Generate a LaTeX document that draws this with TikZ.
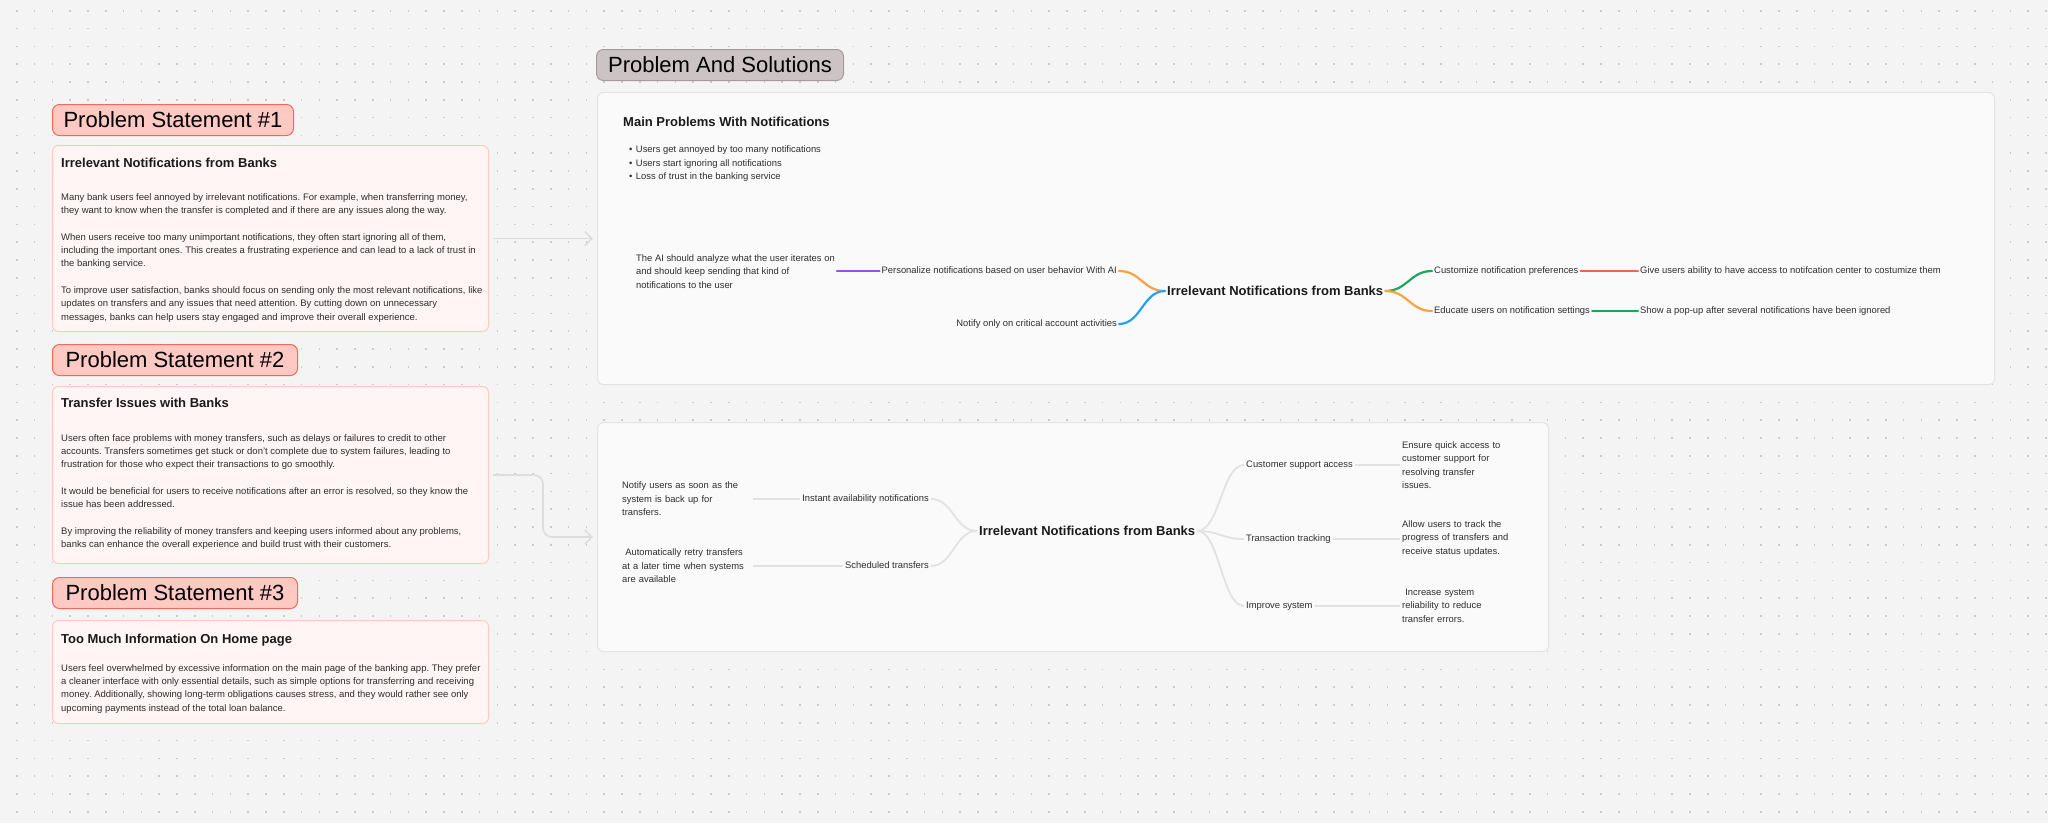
\documentclass[tikz,border=0pt]{standalone}
\usepackage{fontspec}
\setmainfont{Liberation Sans}
\usetikzlibrary{arrows.meta}
\frenchspacing

\definecolor{pagebg}{HTML}{F4F4F4}
\definecolor{dotgrey}{HTML}{CACACA}
\definecolor{tagfill}{HTML}{FFC9C3}
\definecolor{tagdraw}{HTML}{EE6A5A}
\definecolor{boxfill}{HTML}{FFF5F4}
\definecolor{boxdraw}{HTML}{FFCAC3}
\definecolor{pasfill}{HTML}{CCC4C4}
\definecolor{pasdraw}{HTML}{A59B9B}
\definecolor{panelfill}{HTML}{FAFAFA}
\definecolor{paneldraw}{HTML}{E3E3E3}
\definecolor{inkdark}{HTML}{1A1A1A}
\definecolor{inktext}{HTML}{2E2E2E}
\definecolor{mmorange}{HTML}{F7A440}
\definecolor{mmblue}{HTML}{2B9EF3}
\definecolor{mmgreen}{HTML}{1EA65A}
\definecolor{mmpurple}{HTML}{9A4CF0}
\definecolor{mmred}{HTML}{F2634F}
\definecolor{mmgrey}{HTML}{E2E2E2}
\definecolor{arrowgrey}{HTML}{DDDDDD}

\begin{document}
\begin{tikzpicture}[x=1pt, y=-1pt,
    griddots/.style={dotgrey, line width=1.6pt, dash pattern=on 1.6pt off 16.2pt},
    tagbox/.style={draw=tagdraw, fill=tagfill, line width=1pt, rounded corners=7pt, minimum height=31pt, inner sep=0pt, font=\fontsize{22}{26}\selectfont},
    pastag/.style={tagbox, draw=pasdraw, fill=pasfill},
    probbox/.style={draw=boxdraw, fill=boxfill, line width=1pt, rounded corners=6pt},
    panel/.style={draw=paneldraw, fill=panelfill, line width=1pt, rounded corners=6pt},
    boxtitle/.style={inkdark, inner sep=2pt, font=\bfseries\fontsize{13}{15}\selectfont},
    boxbody/.style={inktext, inner sep=2pt, align=left, font=\fontsize{9.5}{13.35}\selectfont},
    mmtext/.style={inktext, inner sep=2pt, text height=6.8pt, text depth=1.9pt, font=\fontsize{9.4}{12}\selectfont},
    mmnote/.style={inktext, inner sep=2pt, align=left, font=\fontsize{9.4}{13.5}\selectfont},
    mmhub/.style={inkdark, inner sep=2pt, text height=9.4pt, text depth=0pt, font=\bfseries\fontsize{13}{15}\selectfont},
    mmline/.style={line width=2.2pt, line cap=round},
    mmgreyline/.style={mmgrey, line width=1.8pt},
    flowarrow/.style={arrowgrey, line width=1.6pt, shorten <=4pt, shorten >=4pt, -{Straight Barb[length=7pt, width=14pt]}}
  ]
    \useasboundingbox (0,0) rectangle (2048,823);
    \fill[pagebg] (0,0) rectangle (2048,823);
    \foreach \j in {0,...,45}
        \draw[griddots] (15.9,{10.7+17.8*\j}) -- (2048,{10.7+17.8*\j});

    % problem statements
    \node[tagbox, anchor=north west, minimum width=241] (tag1) at (52,104) {Problem Statement \#1};
    \node[probbox, anchor=north west, minimum width=436, minimum height=186] (box1) at (52,145) {};
    \node[boxtitle, anchor=base west] (title1) at (59,167.5) {Irrelevant Notifications from Banks};
    \node[boxbody, anchor=north west] (body1) at (59,191) {Many bank users feel annoyed by irrelevant notifications. For example, when transferring money,\\they want to know when the transfer is completed and if there are any issues along the way.\\[13.35pt]When users receive too many unimportant notifications, they often start ignoring all of them,\\including the important ones. This creates a frustrating experience and can lead to a lack of trust in\\the banking service.\\[13.35pt]To improve user satisfaction, banks should focus on sending only the most relevant notifications, like\\updates on transfers and any issues that need attention. By cutting down on unnecessary\\messages, banks can help users stay engaged and improve their overall experience.};

    \node[tagbox, anchor=north west, minimum width=245] (tag2) at (52,344) {Problem Statement \#2};
    \node[probbox, anchor=north west, minimum width=436, minimum height=177] (box2) at (52,386) {};
    \node[boxtitle, anchor=base west] (title2) at (59,407.5) {Transfer Issues with Banks};
    \node[boxbody, anchor=north west] (body2) at (59,432) {Users often face problems with money transfers, such as delays or failures to credit to other\\accounts. Transfers sometimes get stuck or don't complete due to system failures, leading to\\frustration for those who expect their transactions to go smoothly.\\[13.35pt]It would be beneficial for users to receive notifications after an error is resolved, so they know the\\issue has been addressed.\\[13.35pt]By improving the reliability of money transfers and keeping users informed about any problems,\\banks can enhance the overall experience and build trust with their customers.};

    \node[tagbox, anchor=north west, minimum width=245] (tag3) at (52,577) {Problem Statement \#3};
    \node[probbox, anchor=north west, minimum width=436, minimum height=103] (box3) at (52,620) {};
    \node[boxtitle, anchor=base west] (title3) at (59,643.5) {Too Much Information On Home page};
    \node[boxbody, anchor=north west] (body3) at (59,662) {Users feel overwhelmed by excessive information on the main page of the banking app. They prefer\\a cleaner interface with only essential details, such as simple options for transferring and receiving\\money. Additionally, showing long-term obligations causes stress, and they would rather see only\\upcoming payments instead of the total loan balance.};

    % solutions
    \node[pastag, anchor=north west, minimum width=247] (pastitle) at (596,49) {Problem And Solutions};
    \node[panel, anchor=north west, minimum width=1397, minimum height=292] (panel1) at (597,92) {};
    \node[panel, anchor=north west, minimum width=951, minimum height=229] (panel2) at (597,422) {};

    \draw[flowarrow] (box1.east) -- (panel1.west);
    \draw[flowarrow, rounded corners=9pt] (box2.east) -- ++(54,0) |- (panel2.west);

    \node[boxtitle, anchor=base west] (mainprob) at (621,126.6) {Main Problems With Notifications};
    \node[mmnote, anchor=north west] (bullets) at (627,143.5) {\textbullet\hspace{3.5pt}Users get annoyed by too many notifications\\\textbullet\hspace{3.5pt}Users start ignoring all notifications\\\textbullet\hspace{3.5pt}Loss of trust in the banking service};

    \node[mmnote, anchor=west] (aihint) at (634,271.5) {The AI should analyze what the user iterates on\\and should keep sending that kind of\\notifications to the user};
    \node[mmtext, anchor=east] (personal) at (1119,271) {Personalize notifications based on user behavior With AI};
    \node[mmtext, anchor=east] (critical) at (1119,324) {Notify only on critical account activities};
    \node[mmhub, anchor=west] (hub1) at (1165,291) {Irrelevant Notifications from Banks};
    \node[mmtext, anchor=west] (prefs) at (1432,271) {Customize notification preferences};
    \node[mmtext, anchor=west] (educate) at (1432,311) {Educate users on notification settings};
    \node[mmtext, anchor=west] (notifcenter) at (1638,271) {Give users ability to have access to notifcation center to costumize them};
    \node[mmtext, anchor=west] (popup) at (1638,311) {Show a pop-up after several notifications have been ignored};

    \draw[mmline, mmpurple] (aihint.east |- personal.west) -- (personal.west);
    \draw[mmline, mmorange] (personal.east) .. controls +(22,0) and +(-22,0) .. (hub1.west);
    \draw[mmline, mmblue] (critical.east) .. controls +(22,0) and +(-22,0) .. (hub1.west);
    \draw[mmline, mmgreen] (hub1.east) .. controls +(22,0) and +(-22,0) .. (prefs.west);
    \draw[mmline, mmorange] (hub1.east) .. controls +(22,0) and +(-22,0) .. (educate.west);
    \draw[mmline, mmred] (prefs.east) -- (notifcenter.west);
    \draw[mmline, mmgreen] (educate.east) -- (popup.west);

    \node[mmnote, anchor=west, text width=129] (backup) at (620,499) {Notify users as soon as the\\system is back up for\\transfers.};
    \node[mmnote, anchor=west, text width=129] (retry) at (620,566) {\ Automatically retry transfers\\at a later time when systems\\are available};
    \node[mmtext, anchor=east] (instant) at (931,499) {Instant availability notifications};
    \node[mmtext, anchor=east] (scheduled) at (931,566) {Scheduled transfers};
    \node[mmhub, anchor=west] (hub2) at (977,531) {Irrelevant Notifications from Banks};
    \node[mmtext, anchor=west] (support) at (1244,465) {Customer support access};
    \node[mmtext, anchor=west] (tracking) at (1244,539) {Transaction tracking};
    \node[mmtext, anchor=west] (improve) at (1244,606) {Improve system};
    \node[mmnote, anchor=west, text width=115] (quickaccess) at (1400,465) {Ensure quick access to\\customer support for\\resolving transfer\\issues.};
    \node[mmnote, anchor=west, text width=115] (progress) at (1400,538.5) {Allow users to track the\\progress of transfers and\\receive status updates.};
    \node[mmnote, anchor=west, text width=115] (reliability) at (1400,605.5) {\ Increase system\\reliability to reduce\\transfer errors.};

    \draw[mmgreyline] (backup.east |- instant.west) -- (instant.west);
    \draw[mmgreyline] (retry.east |- scheduled.west) -- (scheduled.west);
    \draw[mmgreyline] (instant.east) .. controls +(22,0) and +(-22,0) .. (hub2.west);
    \draw[mmgreyline] (scheduled.east) .. controls +(22,0) and +(-22,0) .. (hub2.west);
    \draw[mmgreyline] (hub2.east) .. controls +(22,0) and +(-22,0) .. (support.west);
    \draw[mmgreyline] (hub2.east) .. controls +(22,0) and +(-22,0) .. (tracking.west);
    \draw[mmgreyline] (hub2.east) .. controls +(22,0) and +(-22,0) .. (improve.west);
    \draw[mmgreyline] (support.east) -- (quickaccess.west |- support.east);
    \draw[mmgreyline] (tracking.east) -- (progress.west |- tracking.east);
    \draw[mmgreyline] (improve.east) -- (reliability.west |- improve.east);
\end{tikzpicture}
\end{document}
